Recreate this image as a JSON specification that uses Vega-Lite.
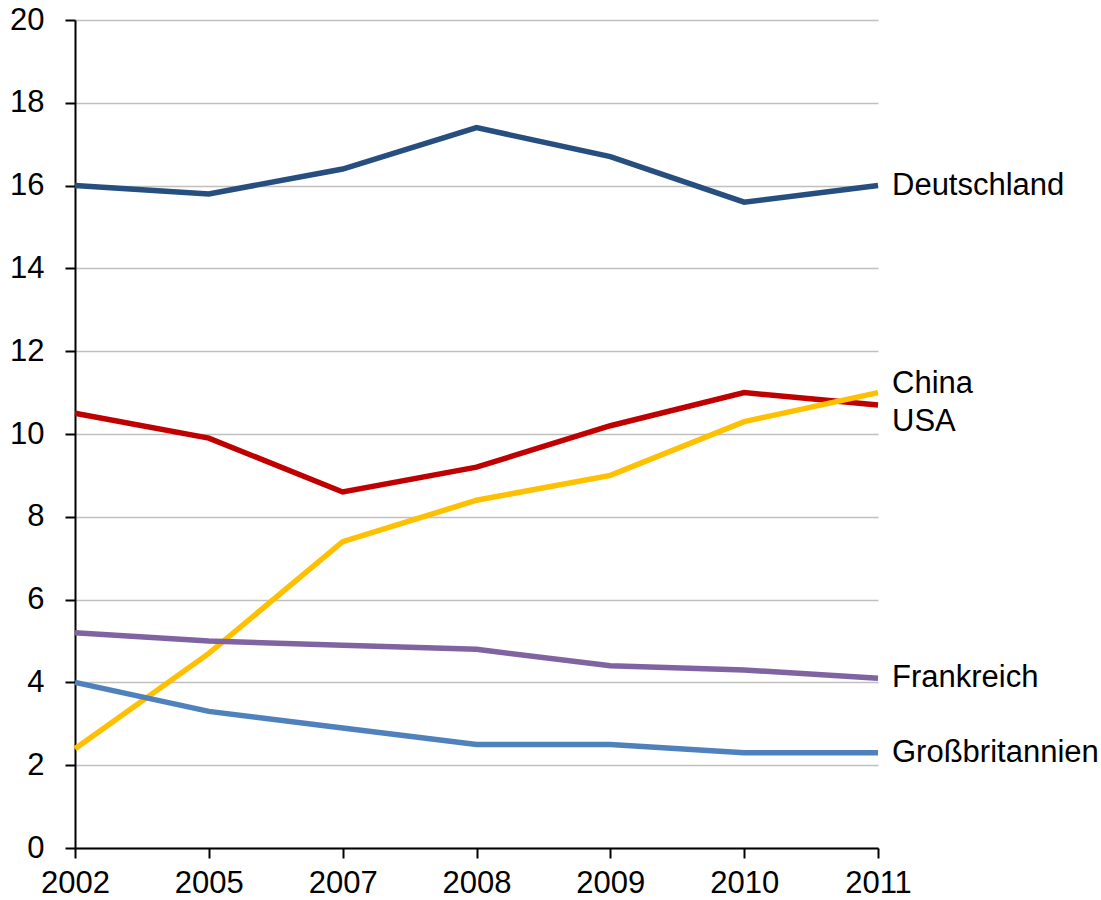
{
  "$schema": "https://vega.github.io/schema/vega-lite/v6.json",
  "width": 803,
  "height": 828,
  "autosize": {"type": "none"},
  "padding": {"left": 75, "top": 20, "right": 223, "bottom": 52},
  "background": "white",
  "config": {
    "view": {"stroke": null},
    "font": "Liberation Sans"
  },
  "datasets": {
    "series": [
      {"year": "2002", "country": "Deutschland", "value": 16.0},
      {"year": "2005", "country": "Deutschland", "value": 15.8},
      {"year": "2007", "country": "Deutschland", "value": 16.4},
      {"year": "2008", "country": "Deutschland", "value": 17.4},
      {"year": "2009", "country": "Deutschland", "value": 16.7},
      {"year": "2010", "country": "Deutschland", "value": 15.6},
      {"year": "2011", "country": "Deutschland", "value": 16.0},
      {"year": "2002", "country": "USA", "value": 10.5},
      {"year": "2005", "country": "USA", "value": 9.9},
      {"year": "2007", "country": "USA", "value": 8.6},
      {"year": "2008", "country": "USA", "value": 9.2},
      {"year": "2009", "country": "USA", "value": 10.2},
      {"year": "2010", "country": "USA", "value": 11.0},
      {"year": "2011", "country": "USA", "value": 10.7},
      {"year": "2002", "country": "China", "value": 2.4},
      {"year": "2005", "country": "China", "value": 4.7},
      {"year": "2007", "country": "China", "value": 7.4},
      {"year": "2008", "country": "China", "value": 8.4},
      {"year": "2009", "country": "China", "value": 9.0},
      {"year": "2010", "country": "China", "value": 10.3},
      {"year": "2011", "country": "China", "value": 11.0},
      {"year": "2002", "country": "Frankreich", "value": 5.2},
      {"year": "2005", "country": "Frankreich", "value": 5.0},
      {"year": "2007", "country": "Frankreich", "value": 4.9},
      {"year": "2008", "country": "Frankreich", "value": 4.8},
      {"year": "2009", "country": "Frankreich", "value": 4.4},
      {"year": "2010", "country": "Frankreich", "value": 4.3},
      {"year": "2011", "country": "Frankreich", "value": 4.1},
      {"year": "2002", "country": "Großbritannien", "value": 4.0},
      {"year": "2005", "country": "Großbritannien", "value": 3.3},
      {"year": "2007", "country": "Großbritannien", "value": 2.9},
      {"year": "2008", "country": "Großbritannien", "value": 2.5},
      {"year": "2009", "country": "Großbritannien", "value": 2.5},
      {"year": "2010", "country": "Großbritannien", "value": 2.3},
      {"year": "2011", "country": "Großbritannien", "value": 2.3}
    ],
    "labels": [
      {"year": "2011", "label": "Deutschland", "value": 16.0},
      {"year": "2011", "label": "China", "value": 11.2},
      {"year": "2011", "label": "USA", "value": 10.3},
      {"year": "2011", "label": "Frankreich", "value": 4.1},
      {"year": "2011", "label": "Großbritannien", "value": 2.3}
    ]
  },
  "layer": [
    {
      "data": {"name": "series"},
      "mark": {"type": "line", "strokeWidth": 5.5, "clip": false},
      "encoding": {
        "x": {
          "field": "year",
          "type": "ordinal",
          "sort": null,
          "scale": {"type": "point", "padding": 0},
          "axis": {
            "title": null,
            "labelAngle": 0,
            "labelFontSize": 31,
            "labelColor": "black",
            "labelPadding": 10,
            "domainColor": "black",
            "domainWidth": 2,
            "tickColor": "black",
            "tickWidth": 2,
            "tickSize": 10,
            "grid": false
          }
        },
        "y": {
          "field": "value",
          "type": "quantitative",
          "scale": {"domain": [0, 20], "nice": false, "zero": true},
          "axis": {
            "title": null,
            "values": [0, 2, 4, 6, 8, 10, 12, 14, 16, 18, 20],
            "labelFontSize": 31,
            "labelColor": "black",
            "labelPadding": 21,
            "domainColor": "black",
            "domainWidth": 2,
            "tickColor": "black",
            "tickWidth": 2,
            "tickSize": 10,
            "grid": true,
            "gridColor": "#c0c0c0",
            "gridWidth": 1.5
          }
        },
        "color": {
          "field": "country",
          "type": "nominal",
          "scale": {
            "domain": ["Deutschland", "USA", "China", "Frankreich", "Großbritannien"],
            "range": ["#264E7E", "#C00000", "#FFC000", "#8064A2", "#4F81BD"]
          },
          "legend": null
        }
      }
    },
    {
      "data": {"name": "labels"},
      "mark": {"type": "text", "align": "left", "baseline": "middle", "dx": 14, "fontSize": 31, "color": "black", "clip": false},
      "encoding": {
        "x": {"field": "year", "type": "ordinal", "sort": null},
        "y": {"field": "value", "type": "quantitative"},
        "text": {"field": "label"}
      }
    }
  ]
}
